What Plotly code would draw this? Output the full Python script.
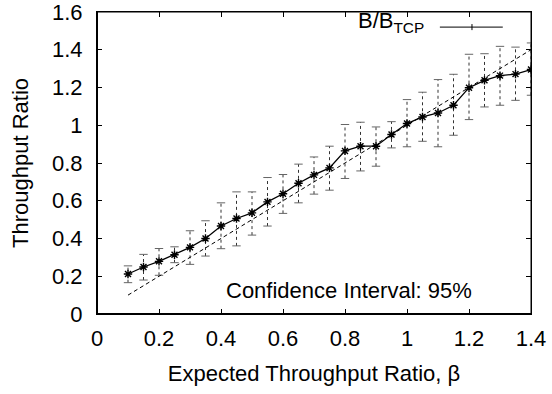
import plotly.graph_objects as go

beta = [0.10, 0.15, 0.20, 0.25, 0.30, 0.35, 0.40, 0.45, 0.50, 0.55, 0.60, 0.65, 0.70,
        0.75, 0.80, 0.85, 0.90, 0.95, 1.00, 1.05, 1.10, 1.15, 1.20, 1.25, 1.30, 1.35, 1.40]
ratio = [0.212, 0.249, 0.279, 0.314, 0.353, 0.400, 0.466, 0.506, 0.536, 0.594, 0.637, 0.693, 0.737,
         0.774, 0.864, 0.889, 0.889, 0.951, 1.009, 1.044, 1.065, 1.106, 1.199, 1.238, 1.263, 1.271, 1.295]
upper = [0.255, 0.316, 0.347, 0.356, 0.441, 0.494, 0.589, 0.647, 0.647, 0.723, 0.739, 0.794, 0.832,
         0.889, 1.004, 1.016, 0.991, 1.019, 1.136, 1.175, 1.242, 1.270, 1.376, 1.379, 1.418, 1.414, 1.436]
lower = [0.166, 0.180, 0.205, 0.272, 0.263, 0.307, 0.346, 0.361, 0.418, 0.466, 0.533, 0.589, 0.635,
         0.656, 0.718, 0.758, 0.783, 0.880, 0.886, 0.915, 0.886, 0.947, 1.030, 1.097, 1.106, 1.132, 1.159]
ideal_x = [0.1, 1.4]
ideal_y = [0.1, 1.4]
x_ticks = [0, 0.2, 0.4, 0.6, 0.8, 1, 1.2, 1.4]
x_labels = ["0", "0.2", "0.4", "0.6", "0.8", "1", "1.2", "1.4"]
y_ticks = [0, 0.2, 0.4, 0.6, 0.8, 1, 1.2, 1.4, 1.6]
y_labels = ["0", "0.2", "0.4", "0.6", "0.8", "1", "1.2", "1.4", "1.6"]

FONT = "Liberation Sans, Arial, Helvetica, sans-serif"
FS = 22

fig = go.Figure()

# error bars as dotted segments
ex, ey = [], []
for b, lo, hi in zip(beta, lower, upper):
    ex += [b, b, None]
    ey += [lo, hi, None]
fig.add_trace(go.Scatter(x=ex, y=ey, mode="lines", line=dict(color="#333", width=1, dash="dot"),
                         showlegend=False, hoverinfo="skip"))
# caps
fig.add_trace(go.Scatter(x=beta + beta, y=lower + upper, mode="markers",
                         marker=dict(symbol="line-ew", size=6, line=dict(color="#666", width=1)),
                         showlegend=False, hoverinfo="skip"))
# ideal line y = x
fig.add_trace(go.Scatter(x=ideal_x, y=ideal_y, mode="lines",
                         line=dict(color="black", width=1, dash="4px,3px"), showlegend=False))
# measured
fig.add_trace(go.Scatter(x=beta, y=ratio, mode="lines+markers",
                         line=dict(color="black", width=1.3),
                         marker=dict(symbol="asterisk-open", size=7, line=dict(color="black", width=1.4)),
                         showlegend=False))

axis_common = dict(showline=True, linecolor="black", linewidth=1, mirror="allticks",
                   ticks="inside", ticklen=5, tickcolor="black", showgrid=False, zeroline=False,
                   automargin=False, ticklabeloverflow="allow",
                   tickfont=dict(family=FONT, size=FS, color="black"))

fig.update_layout(
    width=552, height=394,
    margin=dict(l=97, r=21, t=12, b=80),
    plot_bgcolor="white", paper_bgcolor="white",
    font=dict(family=FONT, size=FS, color="black"),
    xaxis=dict(range=[0, 1.4], tickvals=x_ticks, ticktext=x_labels, ticklabelstandoff=5,
               title=dict(text="Expected Throughput Ratio, β", font=dict(family=FONT, size=FS), standoff=15),
               **axis_common),
    yaxis=dict(range=[0, 1.6], tickvals=y_ticks, ticktext=y_labels, ticklabelstandoff=9,
               title=dict(text="Throughput Ratio", font=dict(family=FONT, size=FS), standoff=17),
               **axis_common),
    showlegend=False,
)

# frame: thin box, thicker bottom/left
fig.add_shape(type="rect", xref="paper", yref="paper", x0=0, x1=1, y0=0, y1=1, line=dict(color="black", width=1))
fig.add_shape(type="line", xref="paper", yref="paper", x0=0, x1=1, y0=0, y1=0, line=dict(color="black", width=2))
fig.add_shape(type="line", xref="paper", yref="paper", x0=0, x1=0, y0=0, y1=1, line=dict(color="black", width=2))

# legend (gnuplot style: text then sample)
fig.add_annotation(xref="paper", yref="paper", x=0.757, y=0.967, xanchor="right", yanchor="middle",
                   text="B/B<sub>TCP</sub>", showarrow=False, font=dict(family=FONT, size=FS))
fig.add_shape(type="line", xref="paper", yref="paper", x0=0.790, x1=0.935, y0=0.950, y1=0.950,
              line=dict(color="black", width=1))
fig.add_shape(type="line", xref="paper", yref="paper", x0=0.864, x1=0.864, y0=0.940, y1=0.960,
              line=dict(color="black", width=1))

fig.add_annotation(x=0.813, y=0.127, xref="x", yref="y", text="Confidence Interval: 95%",
                   showarrow=False, font=dict(family=FONT, size=FS))

fig.write_html("out.html", config={"displayModeBar": False},
               post_script="document.body.style.margin='0';")
